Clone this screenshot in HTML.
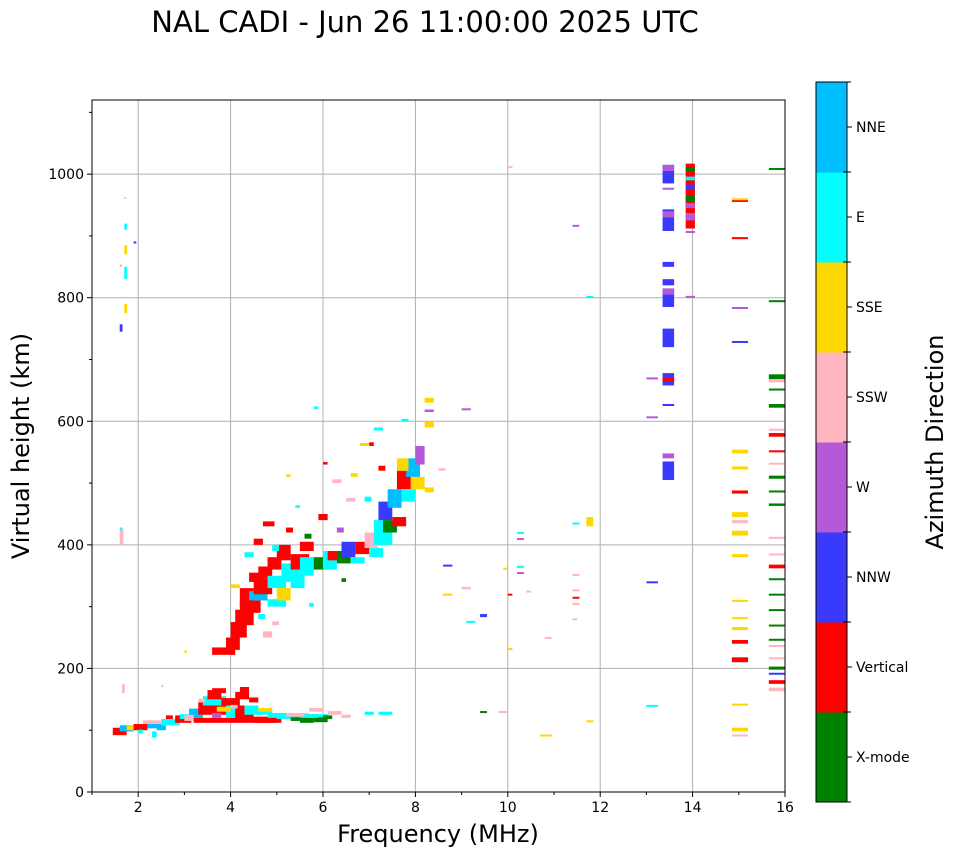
<!DOCTYPE html>
<html><head><meta charset="utf-8"><style>
body{margin:0;background:#fff;}
svg text{font-family:"DejaVu Sans","Liberation Sans",sans-serif;fill:#000;}
</style></head><body>
<svg id="chart" width="958" height="857" xmlns="http://www.w3.org/2000/svg">
<text x="425" y="32" font-size="29" text-anchor="middle">NAL CADI - Jun 26 11:00:00 2025 UTC</text>
<g id="grid"></g>
<g id="marks"></g>
<rect x="92" y="100" width="693" height="692" fill="none" stroke="#000" stroke-width="1"/>
<g id="axes"></g>
<text x="438" y="842" font-size="24" text-anchor="middle">Frequency (MHz)</text>
<text transform="translate(29,446) rotate(-90)" font-size="24" text-anchor="middle">Virtual height (km)</text>
<g id="cbar"></g>
<text transform="translate(943,442) rotate(-90)" font-size="24" text-anchor="middle">Azimuth Direction</text>
</svg>
<script>
const directions = ["X-mode","Vertical","NNW","W","SSW","SSE","E","NNE"];
const dirColors = ["#008000","#ff0000","#3a3aff","#b45ad8","#ffb6c1","#ffd700","#00ffff","#00bfff"];
const xTicks = [2,4,6,8,10,12,14,16];
const xMinor = [1,3,5,7,9,11,13,15];
const yTicks = [0,200,400,600,800,1000];
const yMinor = [100,300,500,700,900,1100];
// cells: [freqStart MHz, heightStart km, freqWidth MHz, heightDepth km, directionIndex]
const cells = [
[1.45,92,0.3,12,1],[1.6,98,0.3,10,7],[1.75,100,0.25,8,5],[1.9,100,0.3,10,1],[2.2,103,0.3,8,7],[2.1,110,0.4,6,4],[2.5,108,0.4,10,6],[2.8,112,0.35,12,1],[2.9,118,0.3,8,6],[3.1,120,0.3,15,7],[3.2,112,1.8,8,1],[3.3,125,0.6,20,1],[3.4,140,0.5,15,6],[3.5,150,0.3,15,1],[3.9,120,0.3,20,6],[3.8,140,0.4,12,1],[4.1,115,0.4,25,1],[4.3,125,0.3,15,6],[4.5,112,0.6,10,1],[4.5,125,0.4,8,6],[4.1,150,0.3,12,1],[4.8,120,0.5,8,6],[5.0,118,1.1,8,6],[5.2,122,0.5,6,4],[5.5,112,0.3,8,0],[5.8,113,0.3,8,0],[5.3,115,0.2,6,0],[6.1,125,0.3,6,4],[3.0,115,0.2,10,4],[2.4,100,0.2,8,7],[3.6,160,0.3,8,1],[4.2,160,0.2,10,1],[3.7,130,0.3,8,5],[4.6,130,0.3,6,5],[5.7,130,0.3,6,4],[6.4,120,0.2,5,4],[6.9,125,0.2,5,6],[7.2,125,0.3,5,6],
[2.0,95,0.1,6,6],[2.3,88,0.1,10,6],[2.6,118,0.15,6,1],[3.3,145,0.15,6,4],[3.6,120,0.2,8,3],[4.4,145,0.2,8,1],[4.0,135,0.15,6,4],[5.6,120,0.3,6,6],[6.0,118,0.2,6,0],
[3.6,222,0.5,12,1],[3.9,230,0.3,20,1],[4.0,250,0.35,25,1],[4.1,270,0.4,25,1],[4.2,290,0.45,20,1],[4.2,300,0.3,30,1],[4.4,310,0.4,15,7],[4.5,320,0.4,25,1],[4.4,340,0.3,15,1],[4.6,345,0.3,20,1],[4.8,300,0.4,12,6],[4.8,330,0.4,20,6],[4.8,360,0.3,20,1],[5.0,310,0.3,20,5],[5.1,340,0.4,30,6],[5.0,375,0.3,25,1],[5.3,330,0.3,25,6],[5.3,360,0.4,25,1],[5.5,350,0.3,30,6],[5.5,390,0.3,15,1],[5.8,360,0.4,20,0],[6.0,360,0.3,30,6],[6.1,375,0.4,15,1],[6.3,370,0.3,20,0],[6.4,380,0.3,25,2],[6.6,370,0.3,10,6],[6.7,385,0.3,20,1],[6.9,395,0.3,25,4],[7.0,380,0.3,15,6],[7.1,400,0.4,40,6],[7.2,440,0.3,30,2],[7.3,420,0.3,20,0],[7.4,460,0.3,30,7],[7.5,430,0.3,15,1],[7.6,490,0.3,30,1],[7.7,470,0.3,20,6],[7.8,510,0.3,30,7],[7.9,490,0.3,20,5],[8.0,530,0.2,30,3],[7.6,520,0.25,20,5],[8.2,485,0.2,8,5],[8.2,590,0.2,10,5],[8.2,630,0.2,8,5],[8.2,615,0.2,4,3],[4.7,250,0.2,10,4],[5.9,440,0.2,10,1],[6.5,470,0.2,6,4],[6.2,500,0.2,6,4],[6.8,560,0.2,5,5],[7.1,585,0.2,5,6],[7.7,600,0.15,4,6],[5.8,620,0.1,4,6],[6.0,530,0.1,4,1],[5.2,510,0.1,4,5],[4.7,430,0.25,8,1],[5.4,460,0.1,4,6],[4.3,380,0.2,8,6],[4.0,330,0.2,6,5],
[4.5,400,0.2,10,1],[4.9,390,0.15,10,6],[5.2,420,0.15,8,1],[5.6,410,0.15,8,0],[5.7,300,0.1,6,6],[4.6,280,0.15,8,6],[4.9,270,0.15,6,4],[6.3,420,0.15,8,3],[6.6,510,0.15,6,5],[6.9,470,0.15,8,6],[7.2,520,0.15,8,1],[6.4,340,0.1,6,0],[7.0,560,0.1,6,1],[8.5,520,0.15,4,4],[3.0,225,0.05,4,5],
[1.6,400,0.08,25,4],[1.6,425,0.06,3,6],[1.6,745,0.06,12,2],[1.7,775,0.06,15,5],[1.7,830,0.06,20,6],[1.7,870,0.06,15,5],[1.7,910,0.06,10,6],[1.6,850,0.05,4,4],[1.9,888,0.06,3,2],[1.7,960,0.04,3,4],[1.65,160,0.06,15,4],[2.5,170,0.05,3,4],
[9.0,618,0.2,3,3],[9.0,328,0.2,4,4],[8.6,365,0.2,3,2],[8.6,318,0.2,3,5],[9.1,274,0.2,3,6],[9.4,283,0.15,5,2],[9.4,128,0.15,3,0],[9.8,128,0.2,3,4],[9.9,360,0.1,3,5],[10.0,318,0.1,3,1],[10.0,230,0.1,3,5],[10.0,1010,0.1,3,4],[10.2,418,0.15,3,6],[10.2,408,0.15,3,3],[10.2,363,0.15,3,6],[10.2,353,0.15,3,3],[10.4,323,0.1,3,4],[10.8,248,0.15,3,4],[10.7,90,0.25,3,5],[11.4,915,0.15,3,3],[11.4,433,0.15,3,6],[11.7,430,0.15,15,5],[11.7,800,0.15,3,6],[11.4,350,0.15,3,4],[11.4,325,0.15,3,4],[11.4,303,0.15,3,4],[11.4,313,0.15,3,1],[11.4,278,0.1,3,4],[11.7,113,0.15,3,5],[13.0,138,0.25,3,6],[13.0,338,0.25,3,2],[13.0,605,0.25,3,3],[13.0,668,0.25,3,3],
[13.35,505,0.25,30,2],[13.35,540,0.25,8,3],[13.35,625,0.25,3,2],[13.35,658,0.25,20,2],[13.35,665,0.25,6,1],[13.35,720,0.25,30,2],[13.35,785,0.25,30,2],[13.35,805,0.25,10,3],[13.35,820,0.25,10,2],[13.35,850,0.25,8,2],[13.35,908,0.25,35,2],[13.35,930,0.25,10,3],[13.35,975,0.25,3,3],[13.35,985,0.25,30,2],[13.35,1005,0.25,10,3],
[13.85,912,0.2,105,1],[13.85,925,0.2,12,3],[13.85,955,0.2,10,0],[13.85,945,0.2,8,3],[13.85,975,0.2,8,2],[13.85,990,0.2,6,6],[13.85,1005,0.2,6,0],[13.85,905,0.2,3,3],[13.85,800,0.2,3,3],
[14.85,955,0.35,5,1],[14.85,958,0.35,3,5],[14.85,895,0.35,3,1],[14.85,782,0.35,3,3],[14.85,727,0.35,3,2],[14.85,548,0.35,6,5],[14.85,522,0.35,5,5],[14.85,483,0.35,5,1],[14.85,445,0.35,8,5],[14.85,435,0.35,5,4],[14.85,415,0.35,8,5],[14.85,380,0.35,5,5],[14.85,308,0.35,3,5],[14.85,280,0.35,3,5],[14.85,262,0.35,5,5],[14.85,240,0.35,6,1],[14.85,210,0.35,8,1],[14.85,140,0.35,3,5],[14.85,98,0.35,6,5],[14.85,90,0.35,3,4],
[15.65,1007,0.35,3,0],[15.65,793,0.35,3,0],[15.65,668,0.35,8,0],[15.65,663,0.35,4,4],[15.65,650,0.35,3,0],[15.65,622,0.35,6,0],[15.65,585,0.35,3,4],[15.65,575,0.35,6,1],[15.65,550,0.35,3,1],[15.65,530,0.35,3,4],[15.65,507,0.35,5,0],[15.65,485,0.35,3,0],[15.65,463,0.35,4,0],[15.65,410,0.35,3,4],[15.65,383,0.35,3,4],[15.65,362,0.35,6,1],[15.65,343,0.35,3,0],[15.65,318,0.35,3,0],[15.65,293,0.35,3,0],[15.65,268,0.35,3,0],[15.65,245,0.35,3,0],[15.65,235,0.35,3,4],[15.65,215,0.35,3,4],[15.65,198,0.35,5,0],[15.65,190,0.35,3,2],[15.65,175,0.35,6,1],[15.65,163,0.35,6,4]
];
const NS="http://www.w3.org/2000/svg";
const X0=92,X1=785,Y0=792,Y1=100,FMIN=1,FMAX=16,HMIN=0,HMAX=1120;
function xs(f){return X0+(f-FMIN)/(FMAX-FMIN)*(X1-X0);}
function ys(h){return Y0-(h-HMIN)/(HMAX-HMIN)*(Y0-Y1);}
function mk(tag,attrs,parent){const e=document.createElementNS(NS,tag);for(const k in attrs)e.setAttribute(k,attrs[k]);parent.appendChild(e);return e;}
const grid=document.getElementById('grid'),axes=document.getElementById('axes'),marks=document.getElementById('marks'),cbar=document.getElementById('cbar');
xTicks.forEach(t=>{const x=xs(t);
 const g=mk('line',{x1:x,x2:x,y1:Y1,y2:Y0,stroke:'#b0b0b0','stroke-width':1},grid);
 
 
 const tk=mk('line',{x1:x,x2:x,y1:Y0,y2:Y0+5,stroke:'#000'},axes);
 
 
 const tx=mk('text',{x:x,y:Y0+20,'font-size':14,'text-anchor':'middle'},axes);tx.textContent=t;
 
 
});
xMinor.forEach(t=>{const x=xs(t);const m=mk('line',{x1:x,x2:x,y1:Y0,y2:Y0+3,stroke:'#000'},axes);
 
 });
yTicks.forEach(t=>{const y=ys(t);
 const g=mk('line',{x1:X0,x2:X1,y1:y,y2:y,stroke:'#b0b0b0','stroke-width':1},grid);
 
 
 const tk=mk('line',{x1:X0-5,x2:X0,y1:y,y2:y,stroke:'#000'},axes);
 
 
 const tx=mk('text',{x:X0-8,y:y+5,'font-size':14,'text-anchor':'end'},axes);tx.textContent=t;
 
 
});
yMinor.forEach(t=>{const y=ys(t);const m=mk('line',{x1:X0-3,x2:X0,y1:y,y2:y,stroke:'#000'},axes);
 
 });
cells.forEach(c=>{const x=xs(c[0]),w=xs(c[0]+c[2])-x,yT=ys(c[1]+c[3]),h=ys(c[1])-yT;
 const r=mk('rect',{x:x,y:yT,width:Math.max(w,1.5),height:Math.max(h,2),fill:dirColors[c[4]]},marks);
 
 
});
const CX=816,CW=31,CT=82,CB=802,band=(CB-CT)/directions.length;
directions.forEach((d,i)=>{const yT=CB-(i+1)*band;
 const r=mk('rect',{x:CX,y:yT,width:CW,height:band+0.5,fill:dirColors[i]},cbar);
 
 
 const t=mk('line',{x1:CX+CW,x2:CX+CW+5,y1:yT+band/2,y2:yT+band/2,stroke:'#000'},cbar);
 
 
 const tx=mk('text',{x:CX+CW+9,y:yT+band/2+5,'font-size':14},cbar);tx.textContent=d;
 
 
});
for(let i=0;i<=directions.length;i++){const y=CB-i*band;const l=mk('line',{x1:CX+CW-4,x2:CX+CW+4,y1:y,y2:y,stroke:'#000'},cbar);
 
 }
const fr=mk('rect',{x:CX,y:CT,width:CW,height:CB-CT,fill:'none',stroke:'#000'},cbar);


</script>
</body></html>
